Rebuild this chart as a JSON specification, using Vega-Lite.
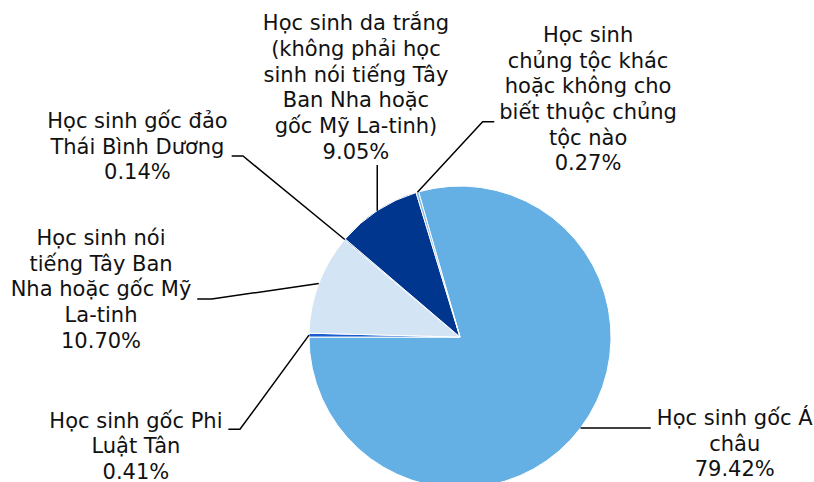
{
  "$schema": "https://vega.github.io/schema/vega-lite/v6.json",
  "width": 814,
  "height": 482,
  "autosize": {"type": "none"},
  "padding": 0,
  "background": "white",
  "config": {"view": {"stroke": null}},
  "datasets": {
    "slices": [
      {"group": "Học sinh gốc Á châu", "value": 79.42, "ord": 1},
      {"group": "Học sinh gốc Phi Luật Tân", "value": 0.41, "ord": 2},
      {"group": "Học sinh nói tiếng Tây Ban Nha hoặc gốc Mỹ La-tinh", "value": 10.70, "ord": 3},
      {"group": "Học sinh gốc đảo Thái Bình Dương", "value": 0.14, "ord": 4},
      {"group": "Học sinh da trắng", "value": 9.05, "ord": 5},
      {"group": "Học sinh chủng tộc khác", "value": 0.27, "ord": 6}
    ],
    "labels": [
      {"label": "Học sinh da trắng\n(không phải học\nsinh nói tiếng Tây\nBan Nha hoặc\ngốc Mỹ La-tinh)\n9.05%", "lx": -68.9, "ly": 207.2},
      {"label": "Học sinh gốc đảo\nThái Bình Dương\n0.14%", "lx": -213.6, "ly": 142.4},
      {"label": "Học sinh\nchủng tộc khác\nhoặc không cho\nbiết thuộc chủng\ntộc nào\n0.27%", "lx": 84.8, "ly": 199.4},
      {"label": "Học sinh nói\ntiếng Tây Ban\nNha hoặc gốc Mỹ\nLa-tinh\n10.70%", "lx": -237.7, "ly": 64.9},
      {"label": "Học sinh gốc Phi\nLuật Tân\n0.41%", "lx": -214.6, "ly": -56.1},
      {"label": "Học sinh gốc Á\nchâu\n79.42%", "lx": 181.9, "ly": -54.3}
    ],
    "leaders": [
      {"s": "white", "o": 1, "px": -54.8, "py": 83.7},
      {"s": "white", "o": 2, "px": -54.8, "py": 113.9},
      {"s": "pacific", "o": 1, "px": -76.3, "py": 64.6},
      {"s": "pacific", "o": 2, "px": -143.7, "py": 119.9},
      {"s": "pacific", "o": 3, "px": -151.2, "py": 119.9},
      {"s": "other", "o": 1, "px": -28.2, "py": 95.9},
      {"s": "other", "o": 2, "px": 15.0, "py": 142.6},
      {"s": "other", "o": 3, "px": 22.7, "py": 142.6},
      {"s": "hispanic", "o": 1, "px": -93.5, "py": 35.4},
      {"s": "hispanic", "o": 2, "px": -164.4, "py": 25.2},
      {"s": "hispanic", "o": 3, "px": -174.0, "py": 25.2},
      {"s": "filipino", "o": 1, "px": -100.0, "py": 1.3},
      {"s": "filipino", "o": 2, "px": -145.7, "py": -61.1},
      {"s": "filipino", "o": 3, "px": -153.4, "py": -61.1},
      {"s": "asian", "o": 1, "px": 79.8, "py": -60.2},
      {"s": "asian", "o": 2, "px": 126.3, "py": -60.2}
    ]
  },
  "layer": [
    {
      "data": {"name": "slices"},
      "mark": {"type": "arc", "outerRadius": 151, "stroke": "white", "strokeWidth": 1},
      "encoding": {
        "x": {"datum": 0, "type": "quantitative", "scale": {"domain": [-304.6, 234.4], "nice": false, "zero": false}, "axis": null},
        "y": {"datum": 0, "type": "quantitative", "scale": {"domain": [-96.0, 223.2], "nice": false, "zero": false}, "axis": null},
        "theta": {"field": "value", "type": "quantitative", "stack": true, "scale": {"range": [-0.2782, 6.0050]}},
        "order": {"field": "ord", "type": "quantitative"},
        "color": {
          "field": "group", "type": "nominal", "legend": null,
          "scale": {
            "domain": ["Học sinh gốc Á châu", "Học sinh gốc Phi Luật Tân", "Học sinh nói tiếng Tây Ban Nha hoặc gốc Mỹ La-tinh", "Học sinh gốc đảo Thái Bình Dương", "Học sinh da trắng", "Học sinh chủng tộc khác"],
            "range": ["#64B0E4", "#1A5DD0", "#D3E4F5", "#4A86C8", "#00368E", "#7DB4E6"]
          }
        }
      }
    },
    {
      "data": {"name": "leaders"},
      "mark": {"type": "line", "color": "black", "strokeWidth": 1.5, "interpolate": "linear"},
      "encoding": {
        "x": {"field": "px", "type": "quantitative", "scale": {"domain": [-304.6, 234.4], "nice": false, "zero": false}, "axis": null},
        "y": {"field": "py", "type": "quantitative", "scale": {"domain": [-96.0, 223.2], "nice": false, "zero": false}, "axis": null},
        "detail": {"field": "s", "type": "nominal"},
        "order": {"field": "o", "type": "quantitative"}
      }
    },
    {
      "data": {"name": "labels"},
      "mark": {"type": "text", "font": "DejaVu Sans", "fontSize": 21, "lineHeight": 25.7, "lineBreak": "\n", "align": "center", "baseline": "middle", "color": "#111111"},
      "encoding": {
        "x": {"field": "lx", "type": "quantitative", "scale": {"domain": [-304.6, 234.4], "nice": false, "zero": false}, "axis": null},
        "y": {"field": "ly", "type": "quantitative", "scale": {"domain": [-96.0, 223.2], "nice": false, "zero": false}, "axis": null},
        "text": {"field": "label", "type": "nominal"}
      }
    }
  ]
}
